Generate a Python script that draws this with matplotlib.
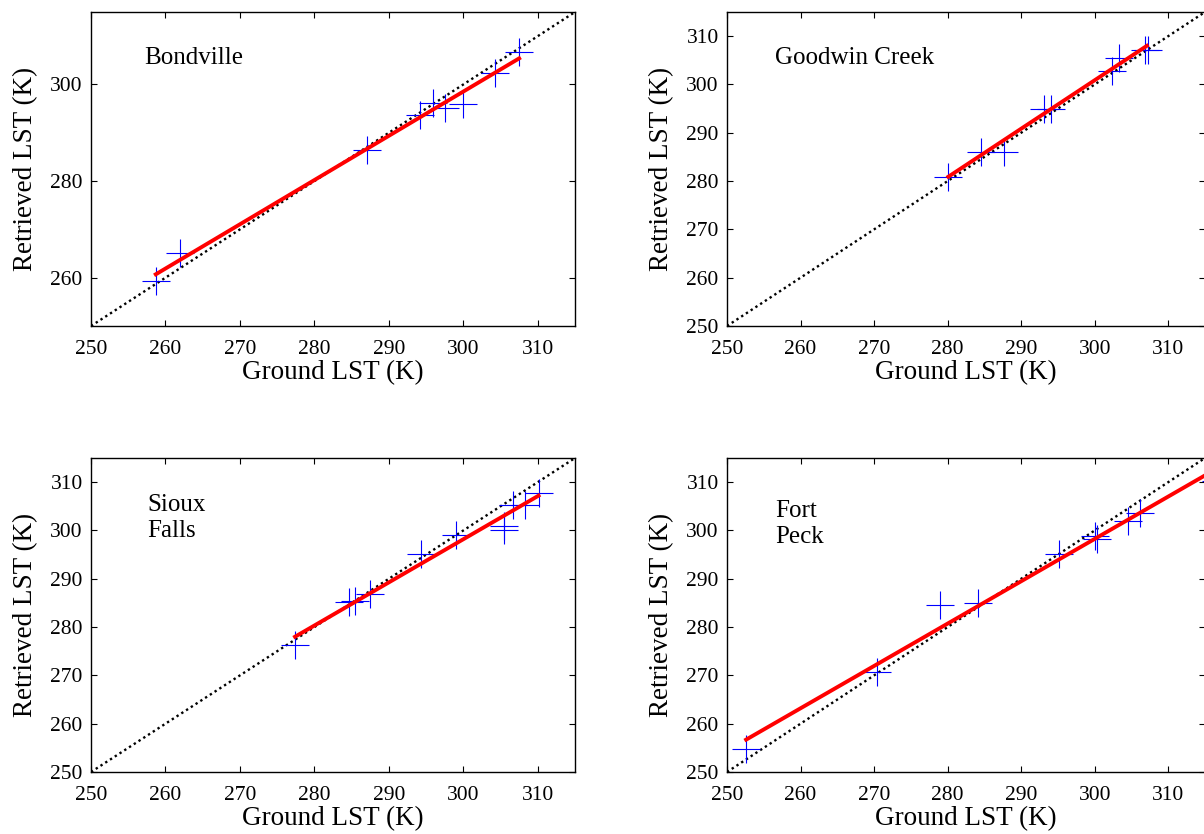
import matplotlib.pyplot as plt

plt.rcParams['font.family'] = ['Liberation Serif', 'DejaVu Serif']

# site names shown inside each panel
sites = ["Bondville", "Goodwin Creek", "Sioux\nFalls", "Fort\nPeck"]

# ground vs retrieved LST (K)
bond_ground = [258.7, 261.9, 287.0, 294.2, 295.9, 297.6, 300.0, 304.3, 307.5]
bond_retr = [259.4, 265.1, 286.4, 293.7, 296.1, 295.1, 295.9, 302.4, 306.8]

good_ground = [280.1, 284.6, 287.6, 293.1, 294.0, 302.3, 303.3, 306.8, 307.2]
good_retr = [280.9, 286.1, 286.1, 294.9, 294.9, 302.8, 305.5, 307.1, 307.1]

sioux_ground = [277.4, 284.6, 285.5, 287.5, 294.3, 299.0, 305.4, 305.5, 306.7, 308.3, 310.1]
sioux_retr = [276.3, 285.1, 285.3, 286.8, 295.2, 299.0, 301.0, 300.1, 305.3, 305.3, 307.7]

# last point sits just past the right edge of the panel
fort_ground = [252.6, 270.4, 278.9, 284.1, 295.1, 300.1, 300.3, 304.5, 306.1, 316.5]
fort_retr = [254.8, 270.6, 284.6, 284.9, 295.1, 298.9, 298.2, 301.9, 303.6, 310.3]

# regression line end points (x pair, y pair)
bond_fit_x = [258.7, 307.5]
bond_fit_y = [260.7, 305.4]
good_fit_x = [280.1, 307.1]
good_fit_y = [280.9, 308.0]
sioux_fit_x = [277.4, 310.1]
sioux_fit_y = [278.0, 307.2]
fort_fit_x = [252.6, 315.0]
fort_fit_y = [256.7, 311.4]

# 1:1 reference line
one_to_one = [250, 315]

x_ticks = [250, 260, 270, 280, 290, 300, 310]
y_ticks_bond = [260, 280, 300]
y_ticks = [250, 260, 270, 280, 290, 300, 310]

fig = plt.figure(figsize=(12.04, 8.34), dpi=100)

# axes boxes in figure fractions, right column runs off the canvas like the original
boxes = [
    [91 / 1204, 1 - 326 / 834, 484 / 1204, 314 / 834],
    [727 / 1204, 1 - 326 / 834, 478 / 1204, 314 / 834],
    [91 / 1204, 1 - 772 / 834, 484 / 1204, 314 / 834],
    [727 / 1204, 1 - 772 / 834, 478 / 1204, 314 / 834],
]

grounds = [bond_ground, good_ground, sioux_ground, fort_ground]
retrs = [bond_retr, good_retr, sioux_retr, fort_retr]
fits_x = [bond_fit_x, good_fit_x, sioux_fit_x, fort_fit_x]
fits_y = [bond_fit_y, good_fit_y, sioux_fit_y, fort_fit_y]
label_pos = [(0.110, 0.853), (0.100, 0.853), (0.116, 0.809), (0.100, 0.790)]

for i in range(4):
    ax = fig.add_axes(boxes[i])
    ax.plot(one_to_one, one_to_one, color="black", linestyle=(0, (1, 1.4)), linewidth=1.7)
    ax.plot(grounds[i], retrs[i], linestyle="none", marker="+", color="#0000ff",
            markersize=20, markeredgewidth=0.8)
    ax.plot(fits_x[i], fits_y[i], color="#ff0000", linewidth=2.8)

    ax.set_xlim(250, 315)
    ax.set_ylim(250, 315)
    ax.set_xticks(x_ticks)
    if i == 0:
        ax.set_yticks(y_ticks_bond)
    else:
        ax.set_yticks(y_ticks)

    ax.tick_params(axis="both", which="major", direction="in", length=4, width=0.8,
                   top=True, right=True, labelsize=15.5)
    ax.tick_params(axis="x", pad=10)
    ax.tick_params(axis="y", pad=6)
    for s in ax.spines.values():
        s.set_linewidth(1.0)

    ax.set_xlabel("Ground LST (K)", fontsize=19.5, labelpad=1)
    ax.set_ylabel("Retrieved LST (K)", fontsize=19.5, labelpad=9)

    ax.text(label_pos[i][0], label_pos[i][1], sites[i], transform=ax.transAxes,
            fontsize=18, ha="left", va="center", linespacing=1.2)

fig.savefig("out.png", dpi=100)
